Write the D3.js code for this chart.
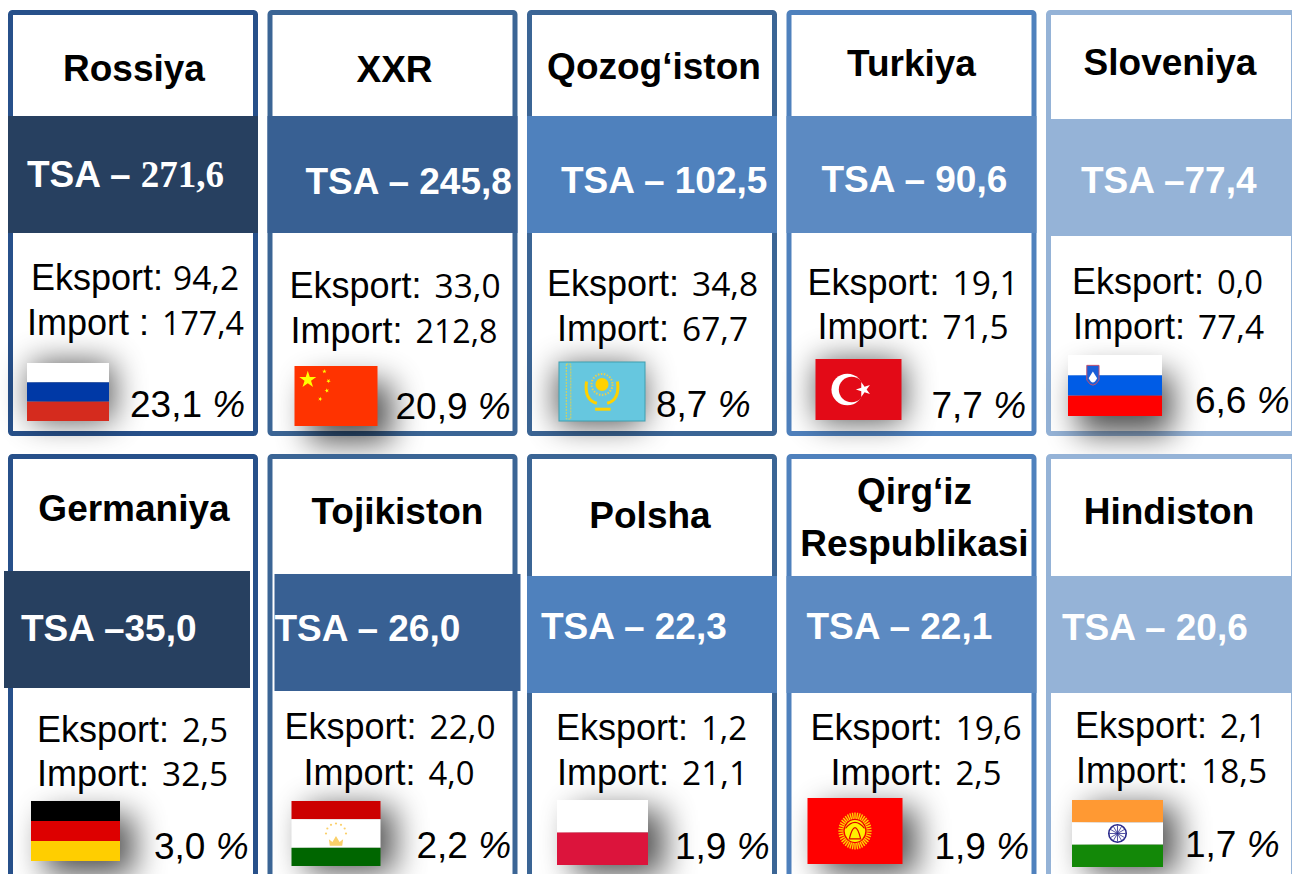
<!DOCTYPE html>
<html>
<head>
<meta charset="utf-8">
<script src="https://cdn.jsdelivr.net/npm/d3@7"></script>
<style>
  html, body { margin: 0; padding: 0; background: #fff; overflow: hidden; }
  text { font-family: "Liberation Sans", Arial, sans-serif; }
</style>
</head>
<body>
<div id="chart"></div>
<script>
//////////// *** DATA *** ////////////

var countries = ["Rossiya", "XXR", "Qozog‘iston", "Turkiya", "Sloveniya",
                 "Germaniya", "Tojikiston", "Polsha", "Qirg‘iz|Respublikasi", "Hindiston"];
var totals  = [271.6, 245.8, 102.5, 90.6, 77.4, 35.0, 26.0, 22.3, 22.1, 20.6];
var exportsV = [94.2, 33.0, 34.8, 19.1, 0.0, 2.5, 22.0, 1.2, 19.6, 2.1];
var importsV = [177.4, 212.8, 67.7, 71.5, 77.4, 32.5, 4.0, 21.1, 2.5, 18.5];
var shares  = [23.1, 20.9, 8.7, 7.7, 6.6, 3.0, 2.2, 1.9, 1.9, 1.7];
var tsaSeparators = [" – ", " – ", " – ", " – ", " –", " –", " – ", " – ", " – ", " – "];

//////////// *** LAYOUT (offsets from card corner) *** ////////////

var width = 1292, height = 874;

var columnScale = d3.scaleBand().domain(d3.range(5)).range([8, 1296]).paddingInner(0.0366);
var rowScale = d3.scaleBand().domain(d3.range(2)).range([10, 880]).paddingInner(0.0405);

var frameColors  = ["#27508a", "#3b6595", "#3b6595", "#4f81bd", "#95b3d7"];
var bannerColors = ["#274060", "#386093", "#4f81bd", "#5c8ac2", "#95b3d7"];

// dx, dy of the banner
var bannerOffsets = [[0,106],[0,106],[0,106],[0,106],[0,109],
                     [-4,117],[7,120],[0,122],[0,122],[0,122]];
// [title centre x, title baseline]
var titlePos = [[126,71],[127,72],[127,69],[125,66],[124,65],
                [126,67],[130,70],[123,74],[128,50],[123,70]];
var tsaPos = [[19,177],[38,184],[34,183],[35,182],[35,183],
              [13,187],[7,187],[14,185],[20,185],[16,186]];
var exportPos = [[23,280],[22,288],[20,286],[21,285],[26,284],
                 [29,288],[17,285],[29,286],[24,286],[29,284]];
var importPos = [[19,325],[23,333],[30,331],[31,329],[27,329],
                 [29,332],[36,331],[30,331],[44,331],[30,329]];
// x, y, w, h of flag
var flagPos = [[19,353,82,58],[27,356,83,60],[32,352,86,59],[29,349,86,61],[22,345,94,61],
               [23,347,89,60],[24,347,89,65],[30,346,91,65],[21,344,95,66],[26,346,91,67]];
// shadow offset against the flag
var shadowOffsets = [[4,0],[14,16],[-2,4],[2,2],[10,18],[14,14],[14,6],[16,10],[14,10],[14,6]];
var sharePos = [[122,407],[128,409],[129,407],[145,408],[149,403],
                [146,405],[149,404],[148,405],[148,405],[139,403]];
// drawn widths of the small value figures, by number of characters
var valueWidths = {3: 46, 4: 66, 5: 82};

var flagStripes = [
  ["#ffffff", "#0039a6", "#d52b1e"],
  ["#ff3300"],
  ["#66c7df"],
  ["#e30a17"],
  ["#ffffff", "#005ce6", "#ff0000"],
  ["#000000", "#dd0000", "#ffce00"],
  ["#cc0000", "#ffffff", "#006600"],
  ["#ffffff", "#dc143c"],
  ["#ff0000"],
  ["#ff9933", "#ffffff", "#138808"]
];
// Tajik white band is taller, so stripe edges are listed here
var flagStops = {6: [0, 0.28, 0.72, 1]};

var comma = d3.formatLocale({decimal: ",", thousands: " ", grouping: [3], currency: ["", ""]}).format(".1f");

//////////// *** DRAW *** ////////////

var svg = d3.select("#chart").append("svg")
  .attr("width", width)
  .attr("height", height)
  .style("display", "block");

var defs = svg.append("defs");
defs.append("filter")
  .attr("id", "blur")
  .attr("x", "-100%").attr("y", "-100%")
  .attr("width", "300%").attr("height", "300%")
  .append("feGaussianBlur").attr("stdDeviation", 16);

var cards = svg.selectAll(".card")
  .data(countries)
  .enter().append("g")
  .attr("class", "card")
  .attr("transform", function(d, i) {
    return "translate(" + columnScale(i % 5) + "," + rowScale(Math.floor(i / 5)) + ")";
  });

cards.append("rect")
  .attr("x", 2.5).attr("y", 2.5)
  .attr("width", columnScale.bandwidth() - 5)
  .attr("height", rowScale.bandwidth() - 5)
  .attr("rx", 2)
  .attr("fill", "#fff")
  .attr("stroke", function(d, i) { return frameColors[i % 5]; })
  .attr("stroke-width", 5);

cards.append("rect")
  .attr("x", function(d, i) { return bannerOffsets[i][0]; })
  .attr("y", function(d, i) { return bannerOffsets[i][1]; })
  .attr("width", function(d, i) { return i == 5 || i == 6 ? 246 : columnScale.bandwidth(); })
  .attr("height", 117)
  .attr("fill", function(d, i) { return bannerColors[i % 5]; });

// titles
cards.each(function(d, i) {
  var lines = d.split("|");
  var g = d3.select(this);
  lines.forEach(function(line, j) {
    g.append("text")
      .attr("x", titlePos[i][0])
      .attr("y", titlePos[i][1] + j * 52)
      .attr("text-anchor", "middle")
      .attr("font-weight", "bold")
      .attr("font-size", 37)
      .attr("fill", "#000")
      .text(line);
  });
});

// TSA line
var tsa = cards.append("text")
  .attr("x", function(d, i) { return tsaPos[i][0]; })
  .attr("y", function(d, i) { return tsaPos[i][1]; })
  .attr("font-weight", "bold")
  .attr("font-size", 37)
  .attr("fill", "#fff")
  .attr("xml:space", "preserve");
tsa.append("tspan")
  .text(function(d, i) { return "TSA" + tsaSeparators[i]; });
tsa.append("tspan")
  .style("font-family", function(d, i) { return i == 0 ? "'Liberation Serif', serif" : null; })
  .text(function(d, i) { return comma(totals[i]); });

// flag shadows sit under the small text
cards.append("rect")
  .attr("x", function(d, i) { return flagPos[i][0] + shadowOffsets[i][0]; })
  .attr("y", function(d, i) { return flagPos[i][1] + shadowOffsets[i][1]; })
  .attr("width", function(d, i) { return flagPos[i][2]; })
  .attr("height", function(d, i) { return flagPos[i][3]; })
  .attr("fill", "#000")
  .attr("opacity", 0.68)
  .attr("filter", "url(#blur)");

// export / import lines
function valueLine(label, values, pos) {
  var t = cards.append("text")
    .attr("x", function(d, i) { return pos[i][0]; })
    .attr("y", function(d, i) { return pos[i][1]; })
    .attr("font-size", 36)
    .attr("fill", "#000")
    .attr("xml:space", "preserve");
  t.append("tspan").text(function(d, i) {
    return label + (label == "Import" && i == 0 ? " : " : ": ");
  });
  t.append("tspan")
    .attr("dx", function(d, i) { return label == "Eksport" && i == 0 ? 0 : 3; })
    .attr("font-size", 32)
    .style("font-family", "'Open Sans', sans-serif")
    .attr("textLength", function(d, i) { return valueWidths[comma(values[i]).length]; })
    .attr("lengthAdjust", "spacingAndGlyphs")
    .text(function(d, i) { return comma(values[i]); });
}
valueLine("Eksport", exportsV, exportPos);
valueLine("Import", importsV, importPos);

var flags = cards.append("g")
  .attr("transform", function(d, i) {
    return "translate(" + flagPos[i][0] + "," + flagPos[i][1] + ")";
  });

flags.each(function(d, i) {
  var g = d3.select(this);
  var w = flagPos[i][2], h = flagPos[i][3];
  var n = flagStripes[i].length;
  var stops = flagStops[i] || d3.range(n + 1).map(function(k) { return k / n; });
  flagStripes[i].forEach(function(c, k) {
    g.append("rect")
      .attr("y", stops[k] * h)
      .attr("width", w)
      .attr("height", (stops[k + 1] - stops[k]) * h)
      .attr("fill", c);
  });
  drawEmblem(g, i, w, h);
});

function star(g, x, y, r, color, rotate) {
  g.append("path")
    .attr("d", d3.symbol().type(d3.symbolStar).size(r * r * 1.6)())
    .attr("transform", "translate(" + x + "," + y + ") rotate(" + (rotate || 0) + ")")
    .attr("fill", color);
}

function drawEmblem(g, i, w, h) {
  if (i == 1) { // China
    star(g, 0.16 * w, 0.23 * h, 7.5, "#ffff00");
    [[0.36, 0.09], [0.41, 0.25], [0.39, 0.41], [0.31, 0.55]].forEach(function(p, k) {
      star(g, p[0] * w, p[1] * h, 2, "#ffff00", k * 30);
    });
  } else if (i == 2) { // Kazakhstan
    g.append("rect").attr("width", w).attr("height", h)
      .attr("fill", "none").attr("stroke", "#3f9fb0").attr("stroke-width", 1);
    g.append("rect").attr("x", 0.085 * w).attr("y", 2).attr("width", 4.5).attr("height", h - 4)
      .attr("fill", "none").attr("stroke", "#e0d050").attr("stroke-width", 1).attr("stroke-dasharray", "2 1");
    g.append("circle").attr("cx", 0.5 * w).attr("cy", 0.38 * h).attr("r", 6.5).attr("fill", "#ffd200");
    g.append("circle").attr("cx", 0.5 * w).attr("cy", 0.38 * h).attr("r", 10.5)
      .attr("fill", "none").attr("stroke", "#e8cf50").attr("stroke-width", 2).attr("stroke-dasharray", "1.5 1.5");
    g.append("path")
      .attr("d", "M" + (0.32 * w) + "," + (0.33 * h) + "Q" + (0.29 * w) + "," + (0.64 * h) + " " + (0.44 * w) + "," + (0.7 * h) +
                 "M" + (0.68 * w) + "," + (0.33 * h) + "Q" + (0.71 * w) + "," + (0.64 * h) + " " + (0.56 * w) + "," + (0.7 * h))
      .attr("fill", "none").attr("stroke", "#ffd200").attr("stroke-width", 3);
    g.append("path")
      .attr("d", "M" + (0.42 * w) + "," + (0.8 * h) + "L" + (0.6 * w) + "," + (0.8 * h))
      .attr("stroke", "#ffd200").attr("stroke-width", 3);
  } else if (i == 3) { // Turkey
    g.append("circle").attr("cx", 0.37 * w).attr("cy", 0.5 * h).attr("r", 0.26 * h).attr("fill", "#fff");
    g.append("circle").attr("cx", 0.42 * w).attr("cy", 0.5 * h).attr("r", 0.21 * h).attr("fill", "#e30a17");
    star(g, 0.56 * w, 0.5 * h, 6.5, "#fff", -18);
  } else if (i == 4) { // Slovenia
    g.append("path")
      .attr("d", "M" + (0.2 * w) + "," + (0.17 * h) + "L" + (0.33 * w) + "," + (0.17 * h) +
                 "L" + (0.33 * w) + "," + (0.41 * h) + "Q" + (0.265 * w) + "," + (0.58 * h) + " " + (0.2 * w) + "," + (0.41 * h) + "Z")
      .attr("fill", "#1a5fd8").attr("stroke", "#c05070").attr("stroke-width", 1);
    g.append("path")
      .attr("d", "M" + (0.22 * w) + "," + (0.38 * h) + "L" + (0.265 * w) + "," + (0.27 * h) + "L" + (0.31 * w) + "," + (0.38 * h) + "Q" + (0.265 * w) + "," + (0.52 * h) + " " + (0.22 * w) + "," + (0.38 * h) + "Z")
      .attr("fill", "#fff");
  } else if (i == 6) { // Tajikistan
    g.append("path")
      .attr("d", "M" + (0.43 * w) + "," + (0.69 * h) + "L" + (0.42 * w) + "," + (0.59 * h) + "L" + (0.46 * w) + "," + (0.63 * h) +
                 "L" + (0.5 * w) + "," + (0.54 * h) + "L" + (0.54 * w) + "," + (0.63 * h) + "L" + (0.58 * w) + "," + (0.59 * h) + "L" + (0.57 * w) + "," + (0.69 * h) + "Z")
      .attr("fill", "#fad06a");
    d3.range(7).forEach(function(k) {
      var a = Math.PI * (1.0 + k / 6);
      g.append("circle")
        .attr("cx", 0.5 * w + Math.cos(a) * 10)
        .attr("cy", 0.5 * h + Math.sin(a) * 10)
        .attr("r", 1.1).attr("fill", "#fad06a");
    });
  } else if (i == 8) { // Kyrgyzstan
    d3.range(40).forEach(function(k) {
      var a = k / 40 * 2 * Math.PI;
      g.append("line")
        .attr("x1", 0.5 * w).attr("y1", 0.5 * h)
        .attr("x2", 0.5 * w + Math.cos(a) * 0.175 * w)
        .attr("y2", 0.5 * h + Math.sin(a) * 0.28 * h)
        .attr("stroke", "#ffd200").attr("stroke-width", 1.4);
    });
    g.append("ellipse").attr("cx", 0.5 * w).attr("cy", 0.5 * h).attr("rx", 0.115 * w).attr("ry", 0.175 * h)
      .attr("fill", "#ffef00").attr("stroke", "#f00000").attr("stroke-width", 1.2);
    g.append("path")
      .attr("d", "M" + (0.44 * w) + "," + (0.62 * h) + "Q" + (0.5 * w) + "," + (0.28 * h) + " " + (0.56 * w) + "," + (0.62 * h) + "Z" +
                 "M" + (0.4 * w) + "," + (0.46 * h) + "Q" + (0.5 * w) + "," + (0.28 * h) + " " + (0.6 * w) + "," + (0.46 * h))
      .attr("fill", "none").attr("stroke", "#e00000").attr("stroke-width", 1.2);
  } else if (i == 9) { // India
    g.append("circle").attr("cx", 0.5 * w).attr("cy", 0.5 * h).attr("r", 0.13 * h)
      .attr("fill", "#fff").attr("stroke", "#2a2a8c").attr("stroke-width", 1.6);
    d3.range(12).forEach(function(k) {
      var a = k / 12 * 2 * Math.PI;
      g.append("line")
        .attr("x1", 0.5 * w).attr("y1", 0.5 * h)
        .attr("x2", 0.5 * w + Math.cos(a) * 0.12 * h)
        .attr("y2", 0.5 * h + Math.sin(a) * 0.12 * h)
        .attr("stroke", "#2a2a8c").attr("stroke-width", 0.8);
    });
  }
}

// share labels
var pct = cards.append("text")
  .attr("x", function(d, i) { return sharePos[i][0]; })
  .attr("y", function(d, i) { return sharePos[i][1]; })
  .attr("font-size", 37)
  .attr("fill", "#000")
  .attr("xml:space", "preserve");
pct.append("tspan").text(function(d, i) { return comma(shares[i]) + " "; });
pct.append("tspan").attr("font-style", "italic").text("%");
</script>
</body>
</html>
